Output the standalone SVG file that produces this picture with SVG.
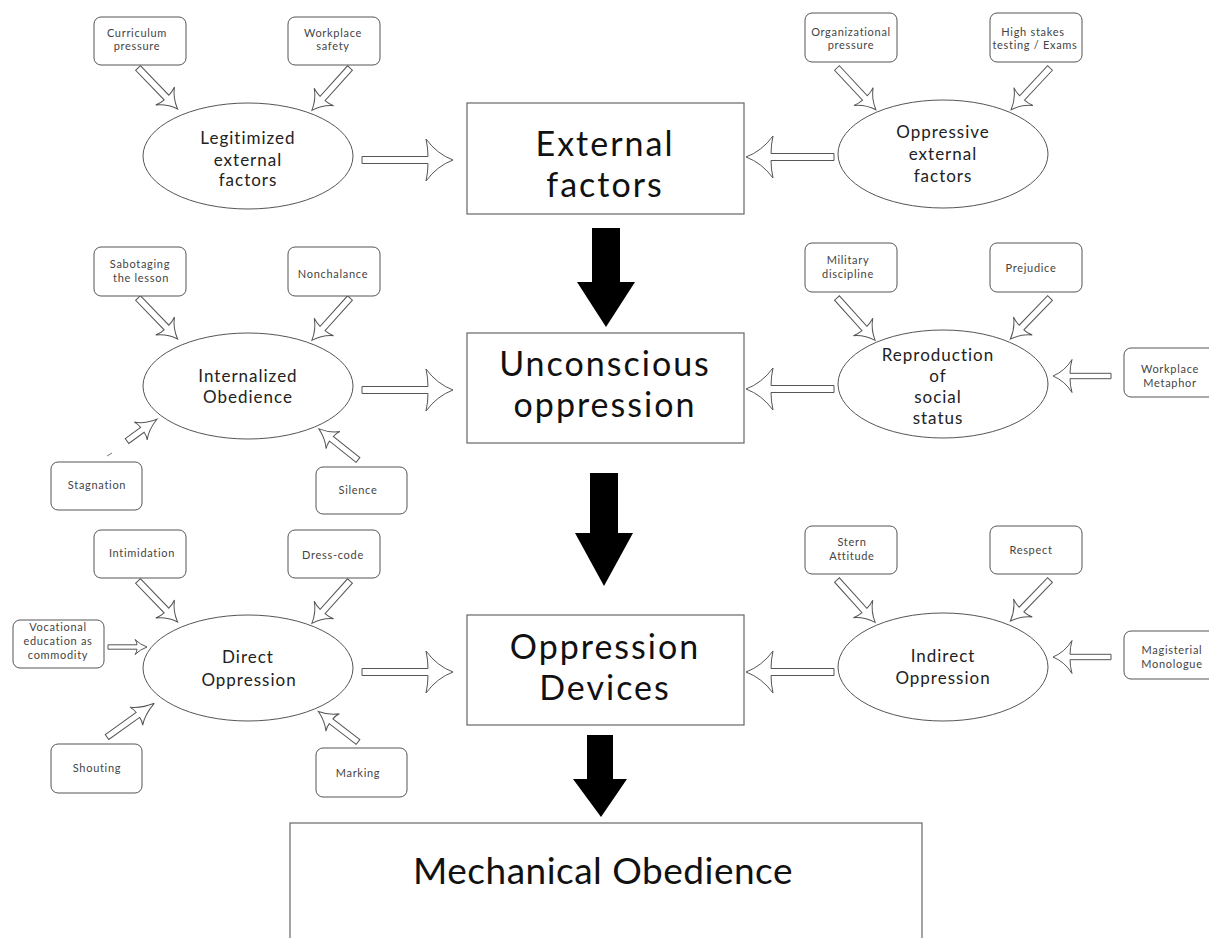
<svg xmlns="http://www.w3.org/2000/svg" width="1209" height="938" viewBox="0 0 1209 938">
<style>
.bg{fill:#fff}
.sb{fill:#fff;stroke:#555;stroke-width:1}
.el{fill:#fff;stroke:#555;stroke-width:1}
.cb{fill:#fff;stroke:#666;stroke-width:1.2}
.ha{fill:#fff;stroke:#555;stroke-width:1;stroke-linejoin:miter}
.ba{fill:#000}
.st{font-family:Lato,"Liberation Sans",sans-serif;font-size:11px;fill:#444;text-anchor:middle;letter-spacing:0.7px}
.et{font-family:Lato,"Liberation Sans",sans-serif;font-size:17px;fill:#222;text-anchor:middle;letter-spacing:1px}
.ct{font-family:Lato,"Liberation Sans",sans-serif;font-size:34px;fill:#111;text-anchor:middle;letter-spacing:2px}
.mt{font-family:Lato,"Liberation Sans",sans-serif;font-size:37px;fill:#111;text-anchor:middle;letter-spacing:0.5px}
</style>
<defs>
<path id="big" d="M0,-3.5 L66,-3.5 Q66,-12 64,-21 Q75,-6 91,0 Q75,6 64,21 Q66,12 66,3.5 L0,3.5 Z"/>
<path id="bigl" d="M0,-3.5 L63,-3.5 Q63,-12 61,-21 Q72,-6 88,0 Q72,6 61,21 Q63,12 63,3.5 L0,3.5 Z"/>
<path id="diag" d="M0,-3.3 L41,-3.3 Q41,-8 39,-13 Q46,-4 57,0 Q46,4 39,13 Q41,8 41,3.3 L0,3.3 Z"/>
<path id="low" d="M0,-3 L38,-3 Q38,-7 36,-11 Q44,-3.5 58,0 Q44,3.5 36,11 Q38,7 38,3 L0,3 Z"/>
<path id="low2" d="M0,-3 L34,-3 Q34,-7 32,-11 Q39,-3.5 50,0 Q39,3.5 32,11 Q34,7 34,3 L0,3 Z"/>
<path id="stag" d="M0,-3 L19,-3 Q19,-7 17,-11 Q24,-3.5 37,0 Q24,3.5 17,11 Q19,7 19,3 L0,3 Z"/>
<path id="side" d="M0,-2.7 L41,-2.7 Q41,-9 39,-16.5 Q46,-5 58,0 Q46,5 39,16.5 Q41,9 41,2.7 L0,2.7 Z"/>
<path id="voc" d="M0,-2.2 L29,-2.2 Q29,-5 27,-7.5 Q32,-2.5 39,0 Q32,2.5 27,7.5 Q29,5 29,2.2 L0,2.2 Z"/>
</defs>
<rect class="bg" x="0" y="0" width="1209" height="938"/>

<g id="connectors">
  <use href="#diag" class="ha" transform="translate(138,68) rotate(46)"/>
  <use href="#diag" class="ha" transform="translate(350,68) rotate(132)"/>
  <use href="#diag" class="ha" transform="translate(837,68) rotate(47)"/>
  <use href="#diag" class="ha" transform="translate(1050,68) rotate(133)"/>
  <use href="#big" class="ha" transform="translate(362,160)"/>
  <use href="#bigl" class="ha" transform="translate(834,157) rotate(180)"/>
  <use href="#diag" class="ha" transform="translate(138,298) rotate(46)"/>
  <use href="#diag" class="ha" transform="translate(350,298) rotate(132)"/>
  <use href="#diag" class="ha" transform="translate(837,298) rotate(48)"/>
  <use href="#diag" class="ha" transform="translate(1050,298) rotate(134)"/>
  <use href="#stag" class="ha" transform="translate(127,441) rotate(-36)"/>
  <line x1="107" y1="456" x2="112" y2="453" stroke="#777" stroke-width="1"/>
  <use href="#low2" class="ha" transform="translate(358,460) rotate(218.5)"/>
  <use href="#side" class="ha" transform="translate(1111,376) rotate(180)"/>
  <use href="#big" class="ha" transform="translate(362,390)"/>
  <use href="#bigl" class="ha" transform="translate(834,389) rotate(180)"/>
  <use href="#diag" class="ha" transform="translate(138,581) rotate(46)"/>
  <use href="#diag" class="ha" transform="translate(350,581) rotate(132)"/>
  <use href="#diag" class="ha" transform="translate(837,580) rotate(48)"/>
  <use href="#diag" class="ha" transform="translate(1050,580) rotate(134)"/>
  <use href="#voc" class="ha" transform="translate(108,647)"/>
  <use href="#low" class="ha" transform="translate(107,737) rotate(-35.5)"/>
  <use href="#low2" class="ha" transform="translate(358,742) rotate(217.6)"/>
  <use href="#side" class="ha" transform="translate(1111,657) rotate(180)"/>
  <use href="#big" class="ha" transform="translate(362,672)"/>
  <use href="#bigl" class="ha" transform="translate(834,672) rotate(180)"/>
  <path class="ba" d="M592,228 H620 V282 H635 L606,327 L577,282 H592 Z"/>
  <path class="ba" d="M590,473 H618 V533 H633 L604,586 L575,533 H590 Z"/>
  <path class="ba" d="M587,735 H613 V779 H627 L601,817 L573,779 H587 Z"/>
</g>

<g id="external-factors">
  <rect class="cb" x="467" y="103" width="277" height="111"/>
  <text class="ct" x="605" y="156">External</text>
  <text class="ct" x="605" y="197">factors</text>
</g>
<g id="unconscious-oppression">
  <rect class="cb" x="467" y="333" width="277" height="110"/>
  <text class="ct" x="605" y="376">Unconscious</text>
  <text class="ct" x="605" y="417">oppression</text>
</g>
<g id="oppression-devices">
  <rect class="cb" x="467" y="615" width="277" height="110"/>
  <text class="ct" x="605" y="659">Oppression</text>
  <text class="ct" x="605" y="700">Devices</text>
</g>
<g id="mechanical-obedience">
  <rect class="cb" x="290" y="823" width="632" height="130"/>
  <text class="mt" x="603" y="884">Mechanical Obedience</text>
</g>

<g id="legitimized-external-factors">
  <ellipse class="el" cx="248" cy="156" rx="105" ry="53"/>
  <text class="et" x="248" y="144">Legitimized</text>
  <text class="et" x="248" y="166">external</text>
  <text class="et" x="248" y="186">factors</text>
</g>
<g id="oppressive-external-factors">
  <ellipse class="el" cx="943" cy="154" rx="105" ry="54"/>
  <text class="et" x="943" y="138">Oppressive</text>
  <text class="et" x="943" y="160">external</text>
  <text class="et" x="943" y="182">factors</text>
</g>
<g id="internalized-obedience">
  <ellipse class="el" cx="248" cy="386" rx="105" ry="53"/>
  <text class="et" x="248" y="382">Internalized</text>
  <text class="et" x="248" y="403">Obedience</text>
</g>
<g id="reproduction-of-social-status">
  <ellipse class="el" cx="943" cy="384" rx="105" ry="54"/>
  <text class="et" x="938" y="361">Reproduction</text>
  <text class="et" x="938" y="382">of</text>
  <text class="et" x="938" y="403">social</text>
  <text class="et" x="938" y="424">status</text>
</g>
<g id="direct-oppression">
  <ellipse class="el" cx="248" cy="668" rx="105" ry="53"/>
  <text class="et" x="248" y="663">Direct</text>
  <text class="et" x="249" y="686">Oppression</text>
</g>
<g id="indirect-oppression">
  <ellipse class="el" cx="943" cy="667" rx="105" ry="54"/>
  <text class="et" x="943" y="662">Indirect</text>
  <text class="et" x="943" y="684">Oppression</text>
</g>

<g id="curriculum-pressure">
  <rect class="sb" x="94" y="17" width="92" height="48" rx="7"/>
  <text class="st" x="137" y="37">Curriculum</text>
  <text class="st" x="137" y="50">pressure</text>
</g>
<g id="workplace-safety">
  <rect class="sb" x="288" y="17" width="92" height="48" rx="7"/>
  <text class="st" x="333" y="37">Workplace</text>
  <text class="st" x="333" y="50">safety</text>
</g>
<g id="organizational-pressure">
  <rect class="sb" x="805" y="13" width="92" height="49" rx="7"/>
  <text class="st" x="851" y="36">Organizational</text>
  <text class="st" x="851" y="49">pressure</text>
</g>
<g id="high-stakes-testing">
  <rect class="sb" x="990" y="13" width="92" height="49" rx="7"/>
  <text class="st" x="1033" y="36">High stakes</text>
  <text class="st" x="1035" y="49">testing / Exams</text>
</g>
<g id="sabotaging-the-lesson">
  <rect class="sb" x="94" y="247" width="92" height="49" rx="7"/>
  <text class="st" x="140" y="268">Sabotaging</text>
  <text class="st" x="141" y="282">the lesson</text>
</g>
<g id="nonchalance">
  <rect class="sb" x="288" y="247" width="92" height="49" rx="7"/>
  <text class="st" x="333" y="278">Nonchalance</text>
</g>
<g id="military-discipline">
  <rect class="sb" x="805" y="243" width="92" height="49" rx="7"/>
  <text class="st" x="848" y="264">Military</text>
  <text class="st" x="848" y="278">discipline</text>
</g>
<g id="prejudice">
  <rect class="sb" x="990" y="243" width="92" height="49" rx="7"/>
  <text class="st" x="1031" y="272">Prejudice</text>
</g>
<g id="workplace-metaphor">
  <rect class="sb" x="1124" y="348" width="92" height="49" rx="7"/>
  <text class="st" x="1170" y="373">Workplace</text>
  <text class="st" x="1170" y="387">Metaphor</text>
</g>
<g id="stagnation">
  <rect class="sb" x="51" y="462" width="91" height="48" rx="7"/>
  <text class="st" x="97" y="489">Stagnation</text>
</g>
<g id="silence">
  <rect class="sb" x="316" y="467" width="91" height="47" rx="7"/>
  <text class="st" x="358" y="494">Silence</text>
</g>
<g id="intimidation">
  <rect class="sb" x="94" y="530" width="92" height="48" rx="7"/>
  <text class="st" x="142" y="557">Intimidation</text>
</g>
<g id="dress-code">
  <rect class="sb" x="288" y="530" width="92" height="48" rx="7"/>
  <text class="st" x="333" y="559">Dress-code</text>
</g>
<g id="stern-attitude">
  <rect class="sb" x="805" y="526" width="92" height="48" rx="7"/>
  <text class="st" x="852" y="546">Stern</text>
  <text class="st" x="852" y="560">Attitude</text>
</g>
<g id="respect">
  <rect class="sb" x="990" y="526" width="92" height="48" rx="7"/>
  <text class="st" x="1031" y="554">Respect</text>
</g>
<g id="vocational-education">
  <rect class="sb" x="13" y="620" width="91" height="48" rx="7"/>
  <text class="st" x="58" y="631">Vocational</text>
  <text class="st" x="58" y="645">education as</text>
  <text class="st" x="58" y="659">commodity</text>
</g>
<g id="magisterial-monologue">
  <rect class="sb" x="1124" y="631" width="92" height="48" rx="7"/>
  <text class="st" x="1172" y="654">Magisterial</text>
  <text class="st" x="1172" y="668">Monologue</text>
</g>
<g id="shouting">
  <rect class="sb" x="51" y="744" width="91" height="49" rx="7"/>
  <text class="st" x="97" y="772">Shouting</text>
</g>
<g id="marking">
  <rect class="sb" x="316" y="748" width="91" height="49" rx="7"/>
  <text class="st" x="358" y="777">Marking</text>
</g>
</svg>
